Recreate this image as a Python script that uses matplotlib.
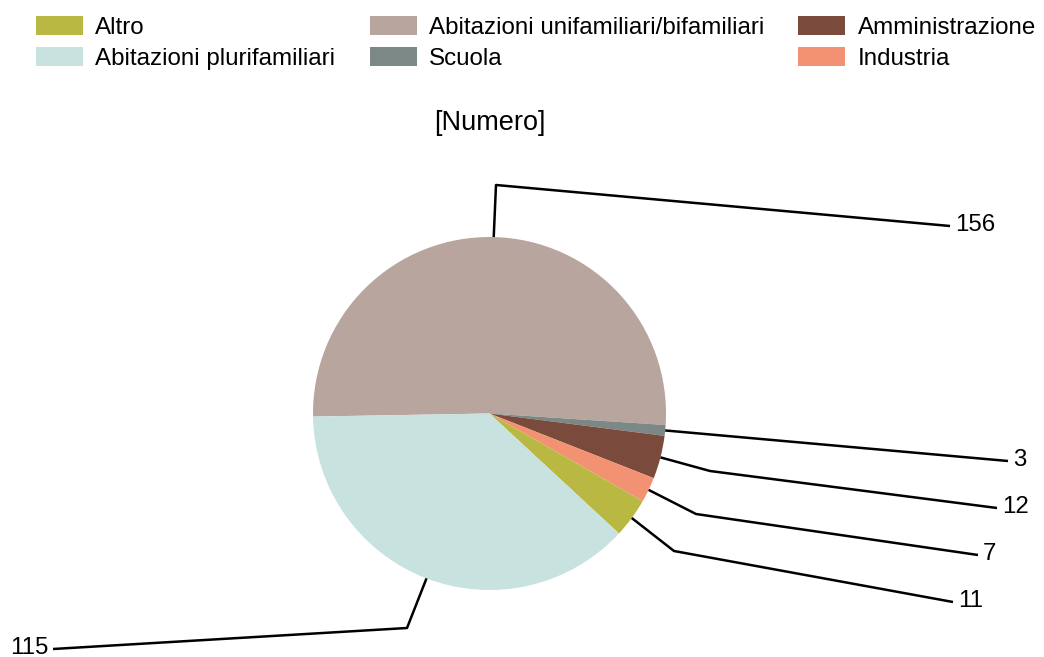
import numpy as np
import matplotlib
matplotlib.use("Agg")
import matplotlib.pyplot as plt
from matplotlib.patches import Patch

# ---- data ----
categories = ["Abitazioni unifamiliari/bifamiliari", "Scuola", "Amministrazione",
              "Industria", "Altro", "Abitazioni plurifamiliari"]
values = [156, 3, 12, 7, 11, 115]
legend_order = ["Altro", "Abitazioni plurifamiliari",
                "Abitazioni unifamiliari/bifamiliari", "Scuola",
                "Amministrazione", "Industria"]
title = "[Numero]"

# ---- styles ----
colors = ["#b8a59e", "#7b8886", "#7a4b3c", "#f29272", "#b8b842", "#c8e2df"]

W, H = 1044, 657
plt.rcParams['font.family'] = ['Liberation Sans', 'DejaVu Sans']
fig = plt.figure(figsize=(W / 100, H / 100), dpi=100)
ax = fig.add_axes([0, 0, 1, 1])

def Y(py):
    return H - py

cx, cy, r = 489.5, Y(413.5), 176.5
wedges, _ = ax.pie(values, colors=colors, startangle=181, counterclock=False,
                   center=(cx, cy), radius=r, frame=True,
                   wedgeprops=dict(linewidth=0))
ax.set_xlim(0, W)
ax.set_ylim(0, H)
ax.set_aspect('equal')
ax.axis('off')

# leader-line layout (pixel coords): elbow (or None), line end, text side
layout = [
    ((496, 185), (950, 226), 'left'),
    (None, (1008, 461), 'left'),
    ((710, 471), (997, 508), 'left'),
    ((696, 514), (978, 555), 'left'),
    ((674, 551), (953, 602), 'left'),
    ((407, 628), (53, 649), 'right'),
]
for w, v, (elbow, end, side) in zip(wedges, values, layout):
    mid = np.deg2rad((w.theta1 + w.theta2) / 2)
    sx, sy = cx + r * np.cos(mid), cy + r * np.sin(mid)
    xs, ys = [sx], [sy]
    if elbow is not None:
        xs.append(elbow[0]); ys.append(Y(elbow[1]))
    xs.append(end[0]); ys.append(Y(end[1]))
    ax.plot(xs, ys, color='black', lw=1.8, solid_capstyle='butt')
    if side == 'left':
        ax.text(end[0] + 5, Y(end[1]) + 1, str(v), ha='left', va='center', fontsize=17.3)
    else:
        ax.text(end[0] - 4, Y(end[1]) + 1, str(v), ha='right', va='center', fontsize=17.3)

ax.text(490, Y(123), title, ha='center', va='center', fontsize=19.5)

cmap = dict(zip(categories, colors))
handles = [Patch(facecolor=cmap[c], edgecolor='none', label=c) for c in legend_order]
fig.legend(handles=handles, ncol=3, loc='upper left',
           bbox_to_anchor=(36 / W, 1 - 16 / H), frameon=False, fontsize=17.4,
           handlelength=1.95, handleheight=0.85, handletextpad=0.5,
           columnspacing=1.42, labelspacing=0.33, borderpad=0, borderaxespad=0)

fig.savefig("out.png", dpi=100)
